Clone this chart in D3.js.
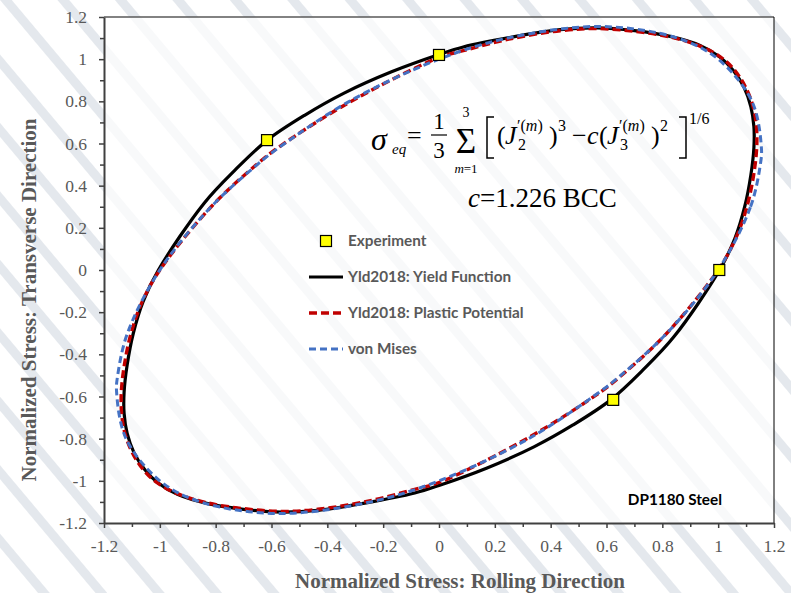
<!DOCTYPE html>
<html>
<head>
<meta charset="utf-8">
<script src="https://cdn.jsdelivr.net/npm/d3@7"></script>
<style>
  html, body { margin: 0; padding: 0; background: #ffffff; }
  svg { display: block; }
</style>
</head>
<body>
<svg id="chart" width="791" height="593"></svg>
<script>
// Yld2018 yield function (black), counter-clockwise from uniaxial RD
const yldX = [1.005, 1.060, 1.095, 1.117, 1.128, 1.128, 1.117, 1.093, 1.055, 1.007, 0.935, 0.828, 0.700, 0.565,
              0.434, 0.266, 0.087, 0.000, -0.170, -0.340, -0.480, -0.615, -0.730, -0.842,
              -1.005, -1.060, -1.095, -1.117, -1.128, -1.128, -1.117, -1.093, -1.055, -1.007, -0.935, -0.828,
              -0.700, -0.565, -0.434, -0.266, -0.087, 0.000, 0.170, 0.340, 0.480, 0.615, 0.730, 0.842];
const yldY = [0.000, 0.150, 0.300, 0.450, 0.580, 0.680, 0.775, 0.865, 0.945, 1.009, 1.065, 1.108, 1.135, 1.148,
              1.140, 1.106, 1.058, 1.022, 0.940, 0.839, 0.735, 0.616, 0.475, 0.316,
              0.000, -0.150, -0.300, -0.450, -0.580, -0.680, -0.775, -0.865, -0.945, -1.009, -1.065, -1.108,
              -1.135, -1.148, -1.140, -1.106, -1.058, -1.022, -0.940, -0.839, -0.735, -0.616, -0.475, -0.316];

// Yld2018 plastic potential (red dashed)
const potX = [1.000, 1.063, 1.103, 1.127, 1.138, 1.137, 1.125, 1.099, 1.060, 1.010, 0.935, 0.828, 0.700, 0.565,
              0.434, 0.250, 0.087, 0.000, -0.321, -0.577, -0.651, -0.816,
              -1.000, -1.063, -1.103, -1.127, -1.138, -1.137, -1.125, -1.099, -1.060, -1.010, -0.935, -0.828,
              -0.700, -0.565, -0.434, -0.250, -0.087, 0.000, 0.321, 0.577, 0.651, 0.816];
const potY = [0.000, 0.150, 0.300, 0.450, 0.580, 0.680, 0.775, 0.865, 0.946, 1.009, 1.062, 1.105, 1.132, 1.145,
              1.135, 1.095, 1.040, 1.008, 0.795, 0.580, 0.503, 0.300,
              0.000, -0.150, -0.300, -0.450, -0.580, -0.680, -0.775, -0.865, -0.946, -1.009, -1.062, -1.105,
              -1.132, -1.145, -1.135, -1.095, -1.040, -1.008, -0.795, -0.580, -0.503, -0.300];

// von Mises (blue dashed)
const misesX = [1.000, 1.116, 1.151, 1.155, 1.121, 1.000, 0.854, 0.577, 0.246, 0.000, -0.321, -0.577, -0.651,
                -0.816, -1.000, -1.116, -1.151, -1.155, -1.121, -1.000, -0.854, -0.577, -0.246, 0.000, 0.321,
                0.577, 0.651, 0.816];
const misesY = [0.000, 0.300, 0.500, 0.577, 0.800, 1.000, 1.100, 1.155, 1.100, 1.000, 0.800, 0.577, 0.500,
                0.300, 0.000, -0.300, -0.500, -0.577, -0.800, -1.000, -1.100, -1.155, -1.100, -1.000, -0.800,
                -0.577, -0.500, -0.300];

// Experimental points
const expX = [0.000, -0.616, 1.004, 0.624];
const expY = [1.020, 0.616, 0.000, -0.616];

// Axis ticks
const majorTicks = [-1.2, -1, -0.8, -0.6, -0.4, -0.2, 0, 0.2, 0.4, 0.6, 0.8, 1, 1.2];
const tickLabels = ["-1.2", "-1", "-0.8", "-0.6", "-0.4", "-0.2", "0", "0.2", "0.4", "0.6", "0.8", "1", "1.2"];
const minorTicks = [-1.1, -0.9, -0.7, -0.5, -0.3, -0.1, 0.1, 0.3, 0.5, 0.7, 0.9, 1.1];

const legendNames = ["Experiment", "Yld2018: Yield Function", "Yld2018: Plastic Potential", "von Mises"];

const svg = d3.select("#chart");
const W = 791, H = 593;
const plot = { left: 104, right: 774, top: 17, bottom: 523 };

const x = d3.scaleLinear().domain([-1.2, 1.2]).range([plot.left, plot.right]);
const y = d3.scaleLinear().domain([-1.2, 1.2]).range([plot.bottom, plot.top]);

const grey = "#595959";
const serif = "'Liberation Serif', 'Times New Roman', serif";
const sans = "Lato, 'Open Sans', sans-serif";

// faint diagonal background stripes
const defs = svg.append("defs");
const pat = defs.append("pattern")
  .attr("id", "stripes")
  .attr("patternUnits", "userSpaceOnUse")
  .attr("width", 44).attr("height", 44)
  .attr("patternTransform", "rotate(-40)");
pat.append("rect").attr("x", 0).attr("y", 0).attr("width", 9).attr("height", 44).attr("fill", "#e4e8ed");

svg.append("rect").attr("width", W).attr("height", H).attr("fill", "#ffffff");
svg.append("rect").attr("width", W).attr("height", H).attr("fill", "url(#stripes)");
svg.append("rect")
  .attr("x", plot.left).attr("y", plot.top)
  .attr("width", plot.right - plot.left).attr("height", plot.bottom - plot.top)
  .attr("fill", "#ffffff").attr("fill-opacity", 0.72);

// top and right frame
svg.append("line").attr("x1", plot.left).attr("x2", plot.right).attr("y1", plot.top).attr("y2", plot.top)
  .attr("stroke", "#595959").attr("stroke-width", 1.5);
svg.append("line").attr("x1", plot.right).attr("x2", plot.right).attr("y1", plot.top).attr("y2", plot.bottom)
  .attr("stroke", "#000000").attr("stroke-width", 1);

// axes
function styleAxis(g) {
  g.select(".domain").attr("stroke", "#404040").attr("stroke-width", 2);
  g.selectAll(".tick line").attr("stroke", "#404040").attr("stroke-width", 1.5);
  g.selectAll(".tick text").attr("fill", grey).attr("font-family", serif).attr("font-size", "17.5px");
}

const xMinor = svg.append("g").attr("transform", `translate(0,${plot.bottom})`)
  .call(d3.axisBottom(x).tickValues(minorTicks).tickSize(4).tickFormat(""));
xMinor.select(".domain").remove();
xMinor.selectAll(".tick line").attr("stroke", "#404040").attr("stroke-width", 1.5);

const yMinor = svg.append("g").attr("transform", `translate(${plot.left},0)`)
  .call(d3.axisLeft(y).tickValues(minorTicks).tickSize(4).tickFormat(""));
yMinor.select(".domain").remove();
yMinor.selectAll(".tick line").attr("stroke", "#404040").attr("stroke-width", 1.5);

svg.append("g").attr("transform", `translate(0,${plot.bottom})`)
  .call(d3.axisBottom(x).tickValues(majorTicks).tickSize(5).tickPadding(12).tickSizeOuter(0)
    .tickFormat((d, i) => tickLabels[i]))
  .call(styleAxis);

svg.append("g").attr("transform", `translate(${plot.left},0)`)
  .call(d3.axisLeft(y).tickValues(majorTicks).tickSize(5).tickPadding(12).tickSizeOuter(0)
    .tickFormat((d, i) => tickLabels[i]))
  .call(styleAxis);

// axis titles
svg.append("text")
  .attr("x", 460).attr("y", 588)
  .attr("text-anchor", "middle")
  .attr("font-family", serif).attr("font-weight", "bold").attr("font-size", "21px")
  .attr("fill", grey)
  .text("Normalized Stress: Rolling Direction");

svg.append("text")
  .attr("transform", "translate(36,300) rotate(-90)")
  .attr("text-anchor", "middle")
  .attr("font-family", serif).attr("font-weight", "bold").attr("font-size", "21px")
  .attr("fill", grey)
  .text("Normalized Stress: Transverse Direction");

// curves
const toPts = (xs, ys) => xs.map((v, i) => [x(v), y(ys[i])]);
const line = d3.line().curve(d3.curveCatmullRomClosed.alpha(0.5));

svg.append("path").attr("d", line(toPts(yldX, yldY)))
  .attr("fill", "none").attr("stroke", "#000000").attr("stroke-width", 3.2);
svg.append("path").attr("d", line(toPts(potX, potY)))
  .attr("fill", "none").attr("stroke", "#C00000").attr("stroke-width", 3.4)
  .attr("stroke-dasharray", "8,4");
svg.append("path").attr("d", line(toPts(misesX, misesY)))
  .attr("fill", "none").attr("stroke", "#4472C4").attr("stroke-width", 3)
  .attr("stroke-dasharray", "7,4");

// experiment markers
svg.append("g").selectAll("rect").data(expX.map((v, i) => [v, expY[i]])).join("rect")
  .attr("x", d => x(d[0]) - 5.5).attr("y", d => y(d[1]) - 5.5)
  .attr("width", 11).attr("height", 11)
  .attr("fill", "#FFFF00").attr("stroke", "#000000").attr("stroke-width", 1.2);

// legend
const lg = svg.append("g");
const rowY = [241, 277, 313, 349];
lg.append("rect").attr("x", 320.5).attr("y", rowY[0] - 5.5).attr("width", 11).attr("height", 11)
  .attr("fill", "#FFFF00").attr("stroke", "#000000").attr("stroke-width", 1.2);
lg.append("line").attr("x1", 309).attr("x2", 343).attr("y1", rowY[1]).attr("y2", rowY[1])
  .attr("stroke", "#000000").attr("stroke-width", 3.2);
lg.append("line").attr("x1", 309).attr("x2", 343).attr("y1", rowY[2]).attr("y2", rowY[2])
  .attr("stroke", "#C00000").attr("stroke-width", 3.4).attr("stroke-dasharray", "8,4");
lg.append("line").attr("x1", 309).attr("x2", 343).attr("y1", rowY[3]).attr("y2", rowY[3])
  .attr("stroke", "#4472C4").attr("stroke-width", 3).attr("stroke-dasharray", "7,4");
lg.selectAll("text").data(legendNames).join("text")
  .attr("x", 348).attr("y", (d, i) => rowY[i] + 5)
  .attr("font-family", sans).attr("font-weight", "bold").attr("font-size", "15.3px")
  .attr("fill", grey)
  .text(d => d);

// material label
svg.append("text").attr("x", 722).attr("y", 505).attr("text-anchor", "end")
  .attr("font-family", sans).attr("font-weight", "bold").attr("font-size", "15.3px")
  .attr("fill", "#000000").text("DP1180 Steel");

// equation
const eq = svg.append("g").attr("font-family", serif).attr("fill", "#000000");
function put(px, py, str, size, italic, anchor) {
  return eq.append("text").attr("x", px).attr("y", py)
    .attr("font-size", size + "px")
    .attr("font-style", italic ? "italic" : "normal")
    .attr("text-anchor", anchor || "start")
    .text(str);
}
put(371, 150, "σ", 32, true);
put(392, 154, "eq", 15, true);
put(407, 144, "=", 26, false);
put(439, 129, "1", 23, false, "middle");
eq.append("line").attr("x1", 431).attr("x2", 447).attr("y1", 135).attr("y2", 135)
  .attr("stroke", "#000").attr("stroke-width", 1.2);
put(439, 158, "3", 23, false, "middle");
put(466, 153, "Σ", 35, false, "middle");
put(466, 117, "3", 14, false, "middle");
const mEq = put(466, 173, "", 13, false, "middle");
mEq.append("tspan").attr("font-style", "italic").text("m");
mEq.append("tspan").text("=1");

// brackets
eq.append("path").attr("d", "M494,117 H487 V158 H494").attr("fill", "none").attr("stroke", "#000").attr("stroke-width", 1.5);
eq.append("path").attr("d", "M679,117 H686 V158 H679").attr("fill", "none").attr("stroke", "#000").attr("stroke-width", 1.5);

function jTerm(x0, sub, pow) {
  put(x0, 144, "(", 26, false);
  put(x0 + 8, 144, "J", 26, true);
  const sup = put(x0 + 20, 131, "", 16, false);
  sup.append("tspan").text("′(");
  sup.append("tspan").attr("font-style", "italic").text("m");
  sup.append("tspan").text(")");
  put(x0 + 21, 150, sub, 16, false);
  put(x0 + 52, 144, ")", 26, false);
  put(x0 + 61, 131, pow, 16, false);
}
jTerm(497, "2", "3");
put(572, 144, "−", 26, false);
put(587, 144, "c", 26, true);
jTerm(599, "3", "2");
put(689, 124, "1/6", 16, false);

// constant
const cTxt = eq.append("text").attr("x", 468).attr("y", 207).attr("font-size", "27px");
cTxt.append("tspan").attr("font-style", "italic").text("c");
cTxt.append("tspan").text("=1.226 BCC");
</script>
</body>
</html>
